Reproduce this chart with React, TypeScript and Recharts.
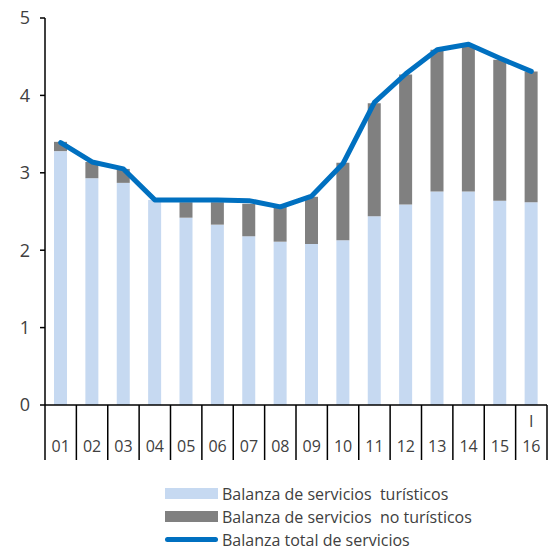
import React from "react"
import { ComposedChart, Bar, Line, XAxis, YAxis } from "recharts"

// Años (2001-2016, último dato primer trimestre)
const years = ["01", "02", "03", "04", "05", "06", "07", "08", "09", "10", "11", "12", "13", "14", "15", "16"]
const turisticos = [3.28, 2.93, 2.87, 2.65, 2.42, 2.33, 2.18, 2.11, 2.08, 2.13, 2.44, 2.59, 2.76, 2.76, 2.64, 2.62]
const noTuristicos = [0.12, 0.21, 0.18, 0.0, 0.2, 0.29, 0.42, 0.45, 0.61, 1.0, 1.46, 1.68, 1.83, 1.88, 1.82, 1.69]
const totalServicios = [3.39, 3.14, 3.05, 2.65, 2.65, 2.65, 2.64, 2.56, 2.7, 3.12, 3.91, 4.28, 4.59, 4.66, 4.48, 4.31]
const yTicks = [0, 1, 2, 3, 4, 5]

const FONT = "'Open Sans', 'DejaVu Sans', sans-serif"
const TEXT = "#404040"
const CHART_W = 549
const CHART_H = 460
const LEFT = 45
const RIGHT = 2
const BAND = (CHART_W - LEFT - RIGHT) / years.length

const data = years.map((y, i) => ({
  year: y,
  tur: turisticos[i],
  noTur: noTuristicos[i],
  total: totalServicios[i],
}))

const XTick = (props: any) => {
  const { x, y, payload, index } = props
  const left = x - BAND / 2
  const last = index === years.length - 1
  return (
    <g>
      <line x1={left} x2={left} y1={y} y2={y + 55} stroke="#000" strokeWidth={1.5} />
      {last && <line x1={x + BAND / 2} x2={x + BAND / 2} y1={y} y2={y + 55} stroke="#000" strokeWidth={1.5} />}
      {last && (
        <text x={x} y={y + 22} textAnchor="middle" fontSize={16} fill={TEXT} fontFamily={FONT}>
          I
        </text>
      )}
      <text x={x} y={y + 47} textAnchor="middle" fontSize={16} fill={TEXT} fontFamily={FONT}>
        {payload.value}
      </text>
    </g>
  )
}

const legendItems = [
  { label: "Balanza de servicios  turísticos", color: "#c6d9f1", kind: "box" },
  { label: "Balanza de servicios  no turísticos", color: "#808080", kind: "box" },
  { label: "Balanza total de servicios", color: "#0070c0", kind: "line" },
]

export default function App() {
  return (
    <div style={{ position: "absolute", left: 0, top: 0, width: 549, height: 549, background: "#fff" }}>
      <ComposedChart
        width={CHART_W}
        height={CHART_H}
        data={data}
        margin={{ top: 18, right: RIGHT, bottom: 0, left: 0 }}
      >
        <XAxis
          dataKey="year"
          height={55}
          tickLine={false}
          tickSize={0}
          tickMargin={0}
          interval={0}
          tick={<XTick />}
          axisLine={{ stroke: "#000", strokeWidth: 1.5 }}
        />
        <YAxis
          width={LEFT}
          domain={[0, 5]}
          ticks={yTicks}
          tickSize={5}
          tickLine={{ stroke: "#000", strokeWidth: 1.5 }}
          axisLine={{ stroke: "#000", strokeWidth: 1.5 }}
          tick={{ fontSize: 18, fill: TEXT, fontFamily: FONT }}
          tickMargin={10}
        />
        <Bar dataKey="tur" stackId="a" fill="#c6d9f1" barSize={13} isAnimationActive={false} />
        <Bar dataKey="noTur" stackId="a" fill="#808080" barSize={13} isAnimationActive={false} />
        <Line
          dataKey="total"
          type="linear"
          stroke="#0070c0"
          strokeWidth={5}
          dot={false}
          strokeLinecap="round"
          strokeLinejoin="round"
          isAnimationActive={false}
        />
      </ComposedChart>
      <div style={{ position: "absolute", left: 165, top: 482, fontFamily: FONT, fontSize: 16, color: TEXT }}>
        {legendItems.map((it) => (
          <div key={it.label} style={{ display: "flex", alignItems: "center", height: 23 }}>
            <span
              style={{
                display: "inline-block",
                width: 53,
                height: it.kind === "box" ? 11 : 5,
                borderRadius: it.kind === "line" ? 3 : 0,
                background: it.color,
                marginRight: 4,
              }}
            />
            <span style={{ whiteSpace: "pre" }}>{it.label}</span>
          </div>
        ))}
      </div>
    </div>
  )
}
